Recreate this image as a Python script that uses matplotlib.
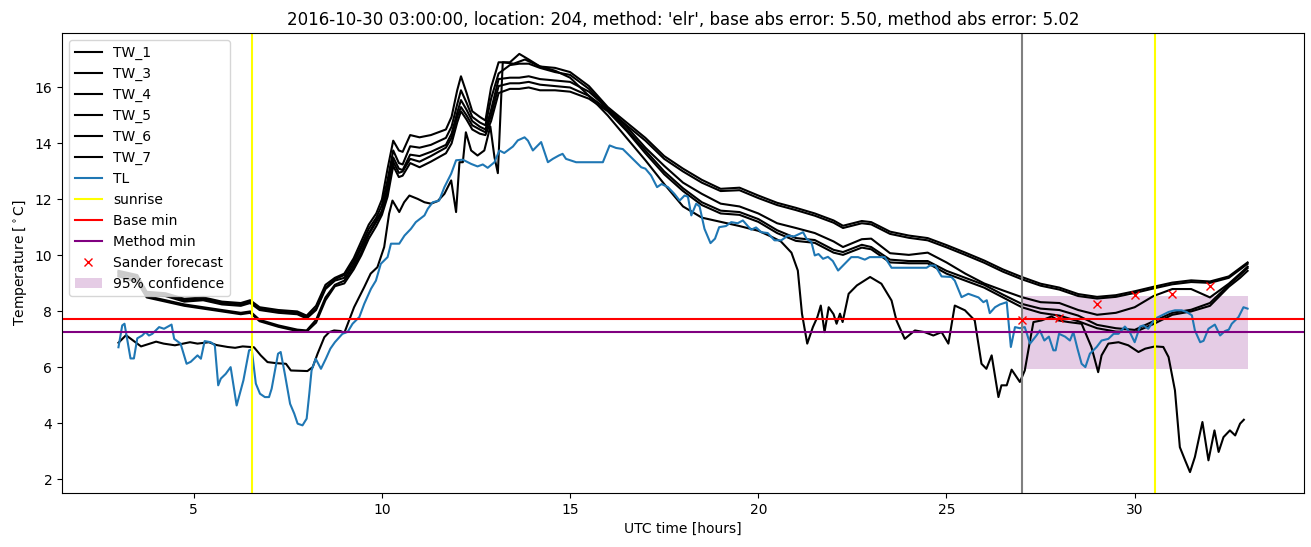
from matplotlib import pyplot as plt

# hours since 2016-10-30 00:00 UTC, shared by the upper TW sensors
TW_HOURS = [3.0, 3.5, 3.75, 4.25, 4.75, 5.25, 5.75, 6.25, 6.5, 6.75,
            7.25, 7.75, 8.0, 8.25, 8.5, 8.75, 9.0, 9.25, 9.45, 9.65,
            9.85, 10.0, 10.15, 10.3, 10.45, 10.55, 10.75, 11.0, 11.3, 11.7,
            11.85, 12.0, 12.1, 12.25, 12.4, 12.6, 12.75, 12.9, 13.1, 13.4,
            13.65, 13.9, 14.2, 14.6, 15.0, 15.5, 16.0, 16.5, 17.0, 17.5,
            18.0, 18.5, 19.0, 19.5, 20.0, 20.5, 21.0, 21.5, 22.0, 22.25,
            22.75, 23.0, 23.5, 24.0, 24.5, 25.0, 25.5, 26.0, 26.5, 27.0,
            27.5, 28.0, 28.5, 29.0, 29.5, 30.0, 30.5, 31.0, 31.5, 32.0,
            32.5, 32.8, 33.0]

TW_1 = [9.45, 9.3, 8.7, 8.65, 8.45, 8.5, 8.35, 8.3, 8.4, 8.15,
        8.05, 8.0, 7.85, 8.2, 8.95, 9.2, 9.35, 9.9, 10.5, 11.1,
        11.5, 12.0, 13.1, 14.1, 13.75, 13.7, 14.3, 14.22, 14.3, 14.5,
        14.95, 15.9, 16.4, 15.8, 15.15, 14.95, 14.82, 16.0, 16.9, 16.9,
        17.2, 17.0, 16.75, 16.7, 16.55, 16.05, 15.3, 14.75, 14.2, 13.55,
        13.1, 12.7, 12.38, 12.42, 12.14, 11.88, 11.7, 11.5, 11.25, 11.06,
        11.23, 11.19, 10.85, 10.71, 10.62, 10.37, 10.1, 9.82, 9.5, 9.23,
        8.99, 8.85, 8.62, 8.52, 8.58, 8.72, 8.88, 9.03, 9.11, 9.07,
        9.25, 9.55, 9.75]
TW_3 = [9.4, 9.25, 8.65, 8.6, 8.4, 8.45, 8.3, 8.25, 8.35, 8.1,
        8.0, 7.95, 7.8, 8.1, 8.85, 9.15, 9.3, 9.8, 10.35, 10.95,
        11.35, 11.8, 12.7, 13.75, 13.3, 13.25, 13.9, 13.85, 13.95, 14.2,
        14.6, 15.4, 15.9, 15.45, 14.95, 14.75, 14.65, 15.6, 16.5, 16.8,
        16.85, 16.85, 16.7, 16.55, 16.45, 15.95, 15.25, 14.65, 14.1, 13.45,
        13.0, 12.6, 12.3, 12.33, 12.05, 11.8, 11.62, 11.42, 11.17, 10.98,
        11.15, 11.11, 10.77, 10.63, 10.54, 10.29, 10.02, 9.74, 9.42, 9.15,
        8.92, 8.78, 8.55, 8.46, 8.52, 8.66, 8.82, 8.97, 9.05, 9.02,
        9.2, 9.5, 9.7]
TW_4 = [9.35, 9.2, 8.6, 8.55, 8.35, 8.4, 8.25, 8.2, 8.3, 8.05,
        7.95, 7.9, 7.75, 8.05, 8.8, 9.1, 9.2, 9.7, 10.25, 10.8,
        11.25, 11.6, 12.45, 13.5, 13.1, 13.05, 13.6, 13.55, 13.7, 13.95,
        14.35, 15.1, 15.55, 15.2, 14.8, 14.6, 14.5, 15.2, 16.3, 16.35,
        16.35, 16.4, 16.3, 16.25, 16.2, 15.85, 15.25, 14.6, 13.85, 13.2,
        12.6, 12.2, 11.85, 11.75, 11.5, 11.15, 10.98, 10.8, 10.5, 10.3,
        10.58, 10.6, 10.08, 10.02, 10.1, 9.75, 9.35, 9.0, 8.75, 8.51,
        8.33, 8.3, 8.05, 7.88, 7.95, 8.15, 8.55, 8.8, 8.8, 8.5,
        8.99, 9.35, 9.6]
TW_5 = [9.3, 9.1, 8.55, 8.4, 8.25, 8.15, 8.05, 7.95, 8.0, 7.7,
        7.5, 7.35, 7.32, 7.7, 8.5, 8.95, 9.1, 9.6, 10.1, 10.75,
        11.2, 11.55, 12.3, 13.35, 12.95, 13.0, 13.45, 13.35, 13.55, 13.85,
        14.2, 14.95, 15.3, 15.0, 14.65, 14.5, 14.4, 15.0, 16.05, 16.15,
        16.15, 16.2, 16.1, 16.05, 16.0, 15.7, 15.2, 14.5, 13.75, 13.0,
        12.4, 11.9, 11.6, 11.55, 11.3, 10.9, 10.62, 10.55, 10.2, 10.12,
        10.38, 10.3, 9.85, 9.8, 9.8, 9.45, 9.2, 8.95, 8.6, 8.27,
        8.1, 8.05, 7.85, 7.52, 7.4, 7.34, 7.65, 7.95, 8.06, 8.3,
        8.95, 9.3, 9.55]
TW_6 = [9.25, 9.05, 8.5, 8.35, 8.2, 8.1, 8.0, 7.9, 7.95, 7.65,
        7.45, 7.3, 7.28, 7.6, 8.4, 8.9, 9.0, 9.5, 10.0, 10.6,
        11.05, 11.45, 12.1, 13.2, 12.8, 12.85, 13.3, 13.15, 13.35, 13.65,
        14.0, 14.75, 15.15, 14.85, 14.5, 14.35, 14.3, 14.8, 15.8, 15.95,
        15.95, 16.0, 15.9, 15.9, 15.85, 15.6, 15.15, 14.45, 13.65, 12.9,
        12.3, 11.8, 11.5, 11.45, 11.2, 10.8, 10.52, 10.45, 10.1, 10.02,
        10.28, 10.22, 9.75, 9.72, 9.72, 9.35, 9.1, 8.85, 8.5, 8.15,
        7.95, 7.85, 7.65, 7.4, 7.28, 7.26, 7.55, 7.88, 8.0, 8.2,
        8.88, 9.2, 9.45]

TW_7_HOURS = [3.0, 3.2, 3.45, 3.6, 4.0, 4.2, 4.5, 4.9, 5.1, 5.4,
              5.6, 5.9, 6.1, 6.3, 6.6, 6.78, 6.96, 7.2, 7.45, 7.58,
              8.02, 8.16, 8.29, 8.47, 8.6, 8.73, 8.9, 9.0, 9.26, 9.53,
              9.7, 9.88, 10.06, 10.19, 10.28, 10.46, 10.59, 10.73, 10.95, 11.13,
              11.3, 11.48, 11.66, 11.84, 11.97, 12.06, 12.15, 12.23, 12.37, 12.54,
              12.72, 12.88, 12.99, 13.08, 13.21, 13.5, 13.8, 14.2, 14.6, 15.0,
              15.5, 16.0, 16.5, 17.0, 17.5, 18.0, 18.5, 19.0, 19.5, 20.0,
              20.3, 20.6, 20.88, 21.05, 21.16, 21.3, 21.45, 21.57, 21.66, 21.76,
              21.87, 22.0, 22.08, 22.17, 22.24, 22.4, 22.62, 22.97, 23.27, 23.54,
              23.67, 23.89, 24.16, 24.42, 24.65, 24.87, 25.05, 25.22, 25.49, 25.75,
              25.93, 26.06, 26.2, 26.38, 26.46, 26.6, 26.73, 26.95, 27.08, 27.22,
              27.31, 27.53, 27.79, 27.97, 28.24, 28.59, 28.85, 29.03, 29.12, 29.3,
              29.57, 29.83, 30.1, 30.28, 30.54, 30.76, 30.9, 31.07, 31.2, 31.34,
              31.47, 31.6, 31.8, 31.96, 32.12, 32.23, 32.36, 32.53, 32.67, 32.8,
              32.9]
TW_7 = [6.88, 7.15, 6.9, 6.75, 6.92, 6.85, 6.79, 6.9, 6.85, 6.9,
        6.8, 6.73, 6.7, 6.75, 6.72, 6.43, 6.19, 6.15, 6.13, 5.89,
        5.87, 6.01, 6.49, 7.08, 7.26, 7.32, 7.3, 7.23, 8.15, 8.87,
        9.35, 9.58, 10.3, 11.49, 11.96, 11.55, 11.9, 12.14, 12.02, 11.9,
        11.85, 11.94, 12.2, 12.68, 11.55, 13.33, 13.33, 14.4, 13.75, 13.57,
        13.75, 14.61, 13.51, 12.94, 16.9, 16.85, 17.0, 16.75, 16.6, 16.35,
        15.7, 15.0, 14.2, 13.4, 12.55, 11.75, 11.35, 11.2, 11.05, 10.88,
        10.7, 10.5, 10.1, 9.46, 7.92, 6.85, 7.44, 7.8, 8.21, 7.26,
        8.15, 7.9, 7.56, 7.92, 7.62, 8.63, 8.93, 9.23, 8.99, 8.39,
        7.68, 7.02, 7.32, 7.26, 7.14, 7.26, 6.85, 8.21, 8.04, 7.68,
        6.13, 5.95, 6.43, 4.94, 5.36, 5.36, 5.92, 5.48, 5.89, 6.96,
        7.62, 7.68, 7.82, 7.68, 7.62, 7.56, 6.73, 5.83, 6.43, 6.85,
        6.9, 6.79, 6.55, 6.67, 6.75, 6.73, 6.37, 5.18, 3.15, 2.68,
        2.26, 2.8, 4.05, 2.68, 3.75, 2.98, 3.51, 3.75, 3.57, 3.99,
        4.13]

TL_HOURS = [3.0, 3.1, 3.16, 3.32, 3.41, 3.5, 3.63, 3.72, 3.81, 3.9,
            4.08, 4.21, 4.41, 4.48, 4.65, 4.81, 4.92, 5.1, 5.19, 5.29,
            5.45, 5.56, 5.65, 5.72, 5.85, 5.98, 6.14, 6.32, 6.47, 6.54,
            6.65, 6.76, 6.89, 7.0, 7.07, 7.24, 7.31, 7.42, 7.56, 7.67,
            7.76, 7.89, 8.0, 8.07, 8.13, 8.24, 8.38, 8.51, 8.63, 8.75,
            8.95, 9.09, 9.22, 9.4, 9.53, 9.71, 9.84, 9.97, 10.15, 10.24,
            10.46, 10.6, 10.77, 10.9, 11.13, 11.22, 11.35, 11.52, 11.66, 11.84,
            11.97, 12.15, 12.37, 12.54, 12.68, 12.81, 12.99, 13.12, 13.25, 13.48,
            13.61, 13.79, 13.88, 14.01, 14.12, 14.23, 14.41, 14.54, 14.7, 14.8,
            14.89, 15.16, 15.87, 16.05, 16.22, 16.4, 16.71, 16.89, 17.0, 17.15,
            17.31, 17.43, 17.6, 17.77, 17.91, 18.04, 18.13, 18.22, 18.35, 18.44,
            18.57, 18.73, 18.85, 18.96, 19.14, 19.28, 19.45, 19.59, 19.72, 19.81,
            19.94, 20.08, 20.25, 20.43, 20.61, 20.79, 20.95, 21.19, 21.28, 21.41,
            21.5, 21.6, 21.72, 21.85, 21.98, 22.12, 22.25, 22.47, 22.65, 22.83,
            22.96, 23.36, 23.54, 24.47, 24.56, 24.7, 24.87, 25.13, 25.22, 25.4,
            25.58, 25.85, 25.98, 26.07, 26.15, 26.29, 26.42, 26.6, 26.71, 26.82,
            26.95, 27.08, 27.22, 27.39, 27.48, 27.6, 27.72, 27.84, 27.9, 27.99,
            28.15, 28.28, 28.37, 28.48, 28.59, 28.69, 28.81, 28.99, 29.12, 29.3,
            29.44, 29.57, 29.74, 29.87, 30.0, 30.14, 30.23, 30.36, 30.54, 30.72,
            30.9, 31.07, 31.25, 31.38, 31.52, 31.6, 31.74, 31.83, 31.96, 32.13,
            32.27, 32.4, 32.5, 32.58, 32.76, 32.89, 33.0]
TL = [6.72, 7.5, 7.56, 6.32, 6.32, 7.04, 7.14, 7.26, 7.14, 7.2,
      7.44, 7.38, 7.53, 7.02, 6.85, 6.13, 6.2, 6.43, 6.31, 6.94,
      6.9, 6.79, 5.36, 5.6, 5.77, 6.01, 4.64, 5.54, 6.61, 6.65,
      5.42, 5.06, 4.94, 4.94, 5.24, 6.49, 6.55, 5.77, 4.7, 4.35,
      3.99, 3.93, 4.17, 5.06, 5.89, 6.31, 5.95, 6.31, 6.67, 6.9,
      7.2, 7.27, 7.56, 7.8, 8.27, 8.81, 9.1, 9.7, 9.94, 10.42,
      10.42, 10.71, 10.95, 11.19, 11.43, 11.67, 11.9, 11.96, 12.44, 12.92,
      13.4, 13.42, 13.27, 13.18, 13.25, 13.13, 13.33, 13.75, 13.66, 13.89,
      14.11, 14.22, 14.1, 13.75, 13.9, 14.05, 13.33, 13.45, 13.57, 13.63,
      13.45, 13.33, 13.33, 13.93, 13.84, 13.8, 13.39, 13.15, 13.1, 12.86,
      12.44, 12.55, 12.44, 12.2, 11.96, 12.14, 12.1, 11.43, 11.85, 11.75,
      10.95, 10.44, 10.6, 11.01, 11.05, 11.19, 11.15, 11.25, 11.05, 10.92,
      11.0, 10.83, 10.8, 10.54, 10.54, 10.71, 10.68, 10.83, 10.6, 10.48,
      10.0, 10.05, 9.88, 9.95, 9.8, 9.46, 9.64, 9.94, 9.94, 9.85,
      9.94, 9.94, 9.56, 9.56, 9.64, 9.64, 9.25, 9.23, 9.1, 8.51,
      8.63, 8.5, 8.33, 8.4, 7.94, 8.15, 8.25, 8.33, 6.73, 7.44,
      7.4, 7.44, 6.85, 7.14, 7.32, 6.96, 7.1, 6.61, 6.61, 7.2,
      7.1, 6.96, 7.26, 6.67, 6.13, 6.01, 6.49, 6.73, 6.96, 7.02,
      7.2, 7.2, 7.46, 7.26, 6.9, 7.46, 7.5, 7.38, 7.74, 7.86,
      7.98, 8.04, 8.04, 7.98, 7.86, 7.32, 6.9, 6.95, 7.38, 7.53,
      7.14, 7.3, 7.35, 7.56, 7.8, 8.15, 8.1]

SUNRISE_HOURS = [6.55, 30.53]
FORECAST_START = 27.0
BASE_MIN = 7.72
METHOD_MIN = 7.25

SANDER_HOURS = [27, 28, 29, 30, 31, 32]
SANDER_FORECAST = [7.71, 7.77, 8.25, 8.6, 8.63, 8.92]

CONF_HOURS = [27.0, 33.0]
CONF_LOW = [5.94, 5.94]
CONF_HIGH = [8.54, 8.54]

TITLE = "2016-10-30 03:00:00, location: 204, method: 'elr', " \
        "base abs error: 5.50, method abs error: 5.02"

fig, ax = plt.subplots(figsize = (13.11, 5.47), dpi = 100)
fig.subplots_adjust(left = 0.0473, right = 0.9947, top = 0.9397, bottom = 0.0987)

tw_series = [('TW_1', TW_1), ('TW_3', TW_3), ('TW_4', TW_4),
             ('TW_5', TW_5), ('TW_6', TW_6)]
for name, values in tw_series:
  ax.plot(TW_HOURS, values, color = 'black', label = name)
ax.plot(TW_7_HOURS, TW_7, color = 'black', label = 'TW_7')

ax.plot(TL_HOURS, TL, color = 'C0', label = 'TL')

for i, h in enumerate(SUNRISE_HOURS):
  ax.axvline(h, color = 'yellow', label = 'sunrise' if i == 0 else None)

ax.axhline(BASE_MIN, color = 'red', label = 'Base min')
ax.axhline(METHOD_MIN, color = 'purple', label = 'Method min')
ax.axvline(FORECAST_START, color = 'gray')

ax.plot(SANDER_HOURS, SANDER_FORECAST, 'x', color = 'red', linestyle = 'None',
        label = 'Sander forecast')
ax.fill_between(CONF_HOURS, CONF_LOW, CONF_HIGH, color = 'purple', alpha = 0.2,
                linewidth = 0, label = '95% confidence')

ax.set_title(TITLE)
ax.set_xlabel('UTC time [hours]')
ax.set_ylabel('Temperature [$^\\circ$C]')
ax.legend(loc = 'upper left')

fig.savefig('out.png')
